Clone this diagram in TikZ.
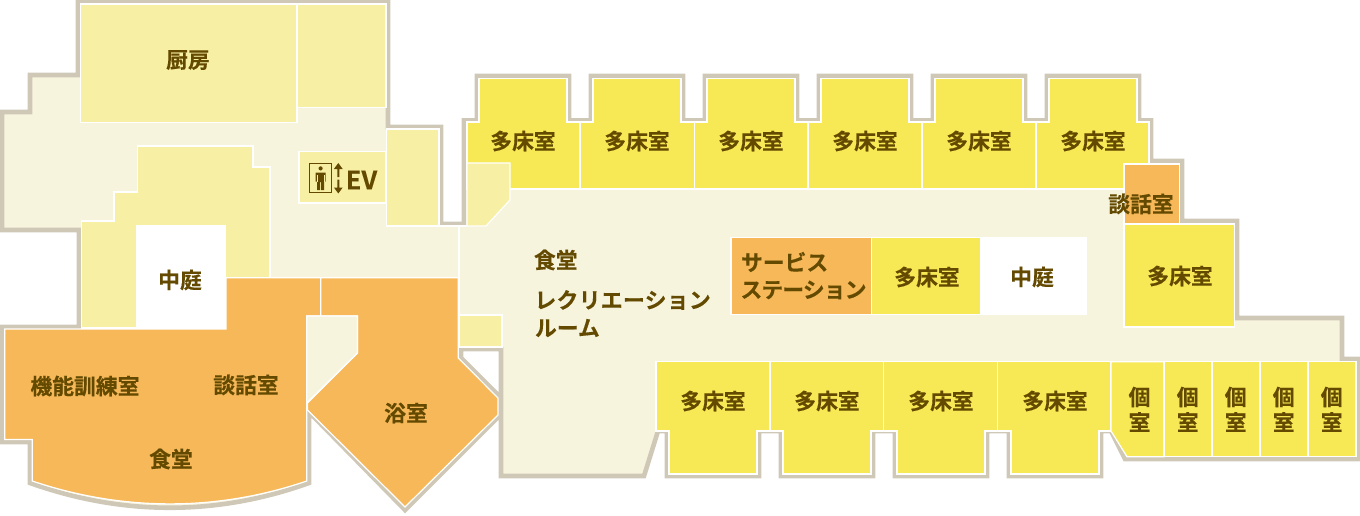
\documentclass[tikz,border=0pt]{standalone}
\usepackage{fontspec}
\setmainfont{Noto Sans CJK JP}[BoldFont={Noto Sans CJK JP Bold},BoldFeatures={FakeBold=0.35}]
\definecolor{wallc}{HTML}{CFC8B7}
\definecolor{floorc}{HTML}{F7F4DE}
\definecolor{palec}{HTML}{F7F0A4}
\definecolor{yelc}{HTML}{F7E855}
\definecolor{orgc}{HTML}{F6B859}
\definecolor{inkc}{HTML}{634A00}
\tikzset{
  wallshape/.style={draw=wallc,fill=floorc,line width=4.6pt,line join=miter},
  roomline/.style={draw=white,line width=1.2pt,line join=miter},
  paleroom/.style={roomline,fill=palec},
  bedroom/.style={roomline,fill=yelc},
  orgroom/.style={roomline,fill=orgc},
  floorroom/.style={roomline,fill=floorc},
  lab/.style={inner sep=0pt,outer sep=0pt,text=inkc,font=\bfseries\fontsize{21.8}{26}\selectfont},
  lableft/.style={lab,anchor=west},
  iconline/.style={draw=inkc,line width=1.2pt},
  iconfill/.style={fill=inkc,draw=none}
}
\begin{document}
\begin{tikzpicture}[x=1pt,y=-1pt]
\useasboundingbox (0,0) rectangle (1360,516);
% outer wall with floor
\draw[wallshape] (78,2) -- (388,2) -- (388,127) -- (441,127) -- (441,224) -- (464,224) -- (464,120.5) -- (477,120.5) -- (477,76)
 -- (569,76) -- (569,120.5) -- (591,120.5) -- (591,76) -- (683,76) -- (683,120.5) -- (705,120.5) -- (705,76) -- (797,76) -- (797,120.5)
 -- (819,120.5) -- (819,76) -- (911,76) -- (911,120.5) -- (933,120.5) -- (933,76) -- (1025,76) -- (1025,120.5) -- (1047,120.5) -- (1047,76)
 -- (1139,76) -- (1139,120.5) -- (1151,120.5) -- (1151,161) -- (1182,161) -- (1182,221) -- (1237,221) -- (1237,318) -- (1342,318) -- (1342,359)
 -- (1358,359) -- (1358,459) -- (1125,459) -- (1111,431) -- (1101,431) -- (1101,476) -- (1009,476) -- (1009,431) -- (987,431) -- (987,476)
 -- (895,476) -- (895,431) -- (873,431) -- (873,476) -- (781,476) -- (781,431) -- (759,431) -- (759,476) -- (667,476) -- (667,431) -- (658,431)
 -- (644,476) -- (501,476) -- (501,349) -- (461,349) -- (461,358) -- (500,397) -- (500,415) -- (405,510) -- (309,412) -- (309,483)
 .. controls (217,516) and (123,516) .. (30,483) -- (30,442) -- (2,442) -- (2,327) -- (79,327) -- (79,230) -- (2,230) -- (2,112) -- (30,112) -- (30,75) -- (78,75) -- cycle;
% floor partition lines
\coordinate (pa) at (439,226); \coordinate (pb) at (467,226); \coordinate (pc) at (459,226); \coordinate (pd) at (459,315);
\draw[roomline] (pa) -- (pb);
\draw[roomline] (pc) -- (pd);
% kitchen and service rooms
\draw[paleroom] (80.5,4) rectangle (297,122.3);
\draw[paleroom] (297,4) rectangle (386,107.5);
\draw[paleroom] (137.5,146) -- (253,146) -- (253,167) -- (270,167) -- (270,277.5) -- (226,277.5) -- (226,328) -- (81.5,328) -- (81.5,221) -- (114,221) -- (114,192) -- (137.5,192) -- cycle;
\draw[paleroom] (299,151.5) rectangle (386,203);
\draw[paleroom] (386.3,129) rectangle (439,226);
\draw[paleroom] (459,315) rectangle (502,347);
% left orange wing
\draw[orgroom] (226,277.7) -- (320.8,277.7) -- (320.8,316) -- (306.7,316) -- (306.7,481)
 .. controls (217,511.5) and (123,511.5) .. (32.3,481) -- (32.3,439.5) -- (4.7,439.5) -- (4.7,329) -- (226,329) -- cycle;
\draw[orgroom] (320.8,277.7) -- (458.3,277.7) -- (458.3,358) -- (498,398) -- (498,415) -- (405,507) -- (307.5,410) -- (307.5,403) -- (357.5,353) -- (357.5,316) -- (320.8,316) -- cycle;
\draw[floorroom] (306.7,316) -- (357.5,316) -- (357.5,353) -- (306.7,403) -- cycle;
\fill[white] (136,225) rectangle (226,329);
% top bed rooms
\draw[bedroom] (467,122) -- (479,122) -- (479,78.3) -- (567,78.3) -- (567,122) -- (580,122) -- (580,189) -- (467,189) -- cycle;
\draw[bedroom] (580,122) -- (593,122) -- (593,78.3) -- (681,78.3) -- (681,122) -- (694.3,122) -- (694.3,189) -- (580,189) -- cycle;
\draw[bedroom] (694.3,122) -- (707,122) -- (707,78.3) -- (795,78.3) -- (795,122) -- (808,122) -- (808,189) -- (694.3,189) -- cycle;
\draw[bedroom] (808,122) -- (821,122) -- (821,78.3) -- (909,78.3) -- (909,122) -- (922,122) -- (922,189) -- (808,189) -- cycle;
\draw[bedroom] (922,122) -- (935,122) -- (935,78.3) -- (1023,78.3) -- (1023,122) -- (1036,122) -- (1036,189) -- (922,189) -- cycle;
\draw[bedroom] (1036,122) -- (1049,122) -- (1049,78.3) -- (1137,78.3) -- (1137,122) -- (1149,122) -- (1149,164) -- (1124,164) -- (1124,189) -- (1036,189) -- cycle;
\draw[paleroom] (467,163) -- (510,163) -- (510,200) -- (486,226) -- (467,226) -- cycle;
\draw[orgroom] (1124,164) rectangle (1179.5,223.5);
\draw[bedroom] (1124,224) rectangle (1234.7,327);
\draw[orgroom] (731,237.5) rectangle (871.7,314.5);
\draw[bedroom] (871.7,237.5) rectangle (981,314.5);
\fill[white] (981,237) rectangle (1087,315);
% bottom bed rooms
\draw[bedroom] (656,361.7) -- (770,361.7) -- (770,431) -- (757,431) -- (757,474) -- (669,474) -- (669,431) -- (656,431) -- cycle;
\draw[bedroom] (770,361.7) -- (883.5,361.7) -- (883.5,431) -- (871,431) -- (871,474) -- (783,474) -- (783,431) -- (770,431) -- cycle;
\draw[bedroom] (883.5,361.7) -- (997.5,361.7) -- (997.5,431) -- (985,431) -- (985,474) -- (897,474) -- (897,431) -- (883.5,431) -- cycle;
\draw[bedroom] (997.5,361.7) -- (1111,361.7) -- (1111,431) -- (1099,431) -- (1099,474) -- (1011,474) -- (1011,431) -- (997.5,431) -- cycle;
% private rooms
\draw[bedroom] (1111,361.7) -- (1164,361.7) -- (1164,456.7) -- (1127,456.7) -- (1111,431) -- cycle;
\draw[bedroom] (1164,361.7) rectangle (1212,456.7);
\draw[bedroom] (1212,361.7) rectangle (1260,456.7);
\draw[bedroom] (1260,361.7) rectangle (1308,456.7);
\draw[bedroom] (1308,361.7) rectangle (1356,456.7);
% EV icon
\draw[iconline] (309.5,163.3) rectangle (331.5,192.7);
\fill[iconfill] (320.6,168.4) circle (2.1);
\fill[iconfill] (315.5,172.5) -- (325.7,172.5) -- (325.7,181.5) -- (324,181.5) -- (324,190) -- (321.2,190) -- (321.2,182) -- (320,182) -- (320,190) -- (317.2,190) -- (317.2,181.5) -- (315.5,181.5) -- cycle;
\draw[palec,line width=0.6pt] (317.4,175) -- (317.4,182) (323.8,175) -- (323.8,182);
\fill[iconfill] (338.3,163) -- (342.7,169) -- (339.3,169) -- (339.3,177) -- (337.3,177) -- (337.3,169) -- (333.9,169) -- cycle;
\fill[iconfill] (338.3,193.5) -- (342.7,187.5) -- (339.3,187.5) -- (339.3,179.5) -- (337.3,179.5) -- (337.3,187.5) -- (333.9,187.5) -- cycle;
\node[inner sep=0pt,text=inkc,font=\bfseries\fontsize{25.5}{25}\selectfont] (ev) at (361.5,180) {EV};
% labels
\node[lab] (t1) at (188,60) {厨房};
\node[lab] (t2) at (523,141) {多床室};
\node[lab] (t3) at (637,141) {多床室};
\node[lab] (t4) at (751,141) {多床室};
\node[lab] (t5) at (865,141) {多床室};
\node[lab] (t6) at (979,141) {多床室};
\node[lab] (t7) at (1093,141) {多床室};
\node[lab] (t8) at (1141,204) {談話室};
\node[lab] (t9) at (1180,276) {多床室};
\node[lab] (t10) at (927,277) {多床室};
\node[lab] (t11) at (1032,277) {中庭};
\node[lab] (t12) at (180,280) {中庭};
\node[lableft] (t13) at (741,262) {サービス};
\node[lableft] (t14) at (740.5,290) {\addfontfeature{LetterSpace=-4}ステーション};
\node[lableft] (t15) at (534,260) {食堂};
\node[lableft] (t16) at (534.5,300) {\addfontfeature{LetterSpace=1.5}レクリエーション};
\node[lableft] (t17) at (535,328) {ルーム};
\node[lab] (t18) at (85,386) {機能訓練室};
\node[lab] (t19) at (246,385) {談話室};
\node[lab] (t20) at (171,459) {食堂};
\node[lab] (t21) at (406,413) {浴室};
\node[lab] (t22) at (713,401) {多床室};
\node[lab] (t23) at (827,401) {多床室};
\node[lab] (t24) at (941,401) {多床室};
\node[lab] (t25) at (1055,401) {多床室};
\node[lab] (a1) at (1139.5,397) {個}; \node[lab] (b1) at (1139.5,422) {室};
\node[lab] (a2) at (1187.7,397) {個}; \node[lab] (b2) at (1187.7,422) {室};
\node[lab] (a3) at (1235.7,397) {個}; \node[lab] (b3) at (1235.7,422) {室};
\node[lab] (a4) at (1283.7,397) {個}; \node[lab] (b4) at (1283.7,422) {室};
\node[lab] (a5) at (1331.7,397) {個}; \node[lab] (b5) at (1331.7,422) {室};
\end{tikzpicture}
\end{document}
